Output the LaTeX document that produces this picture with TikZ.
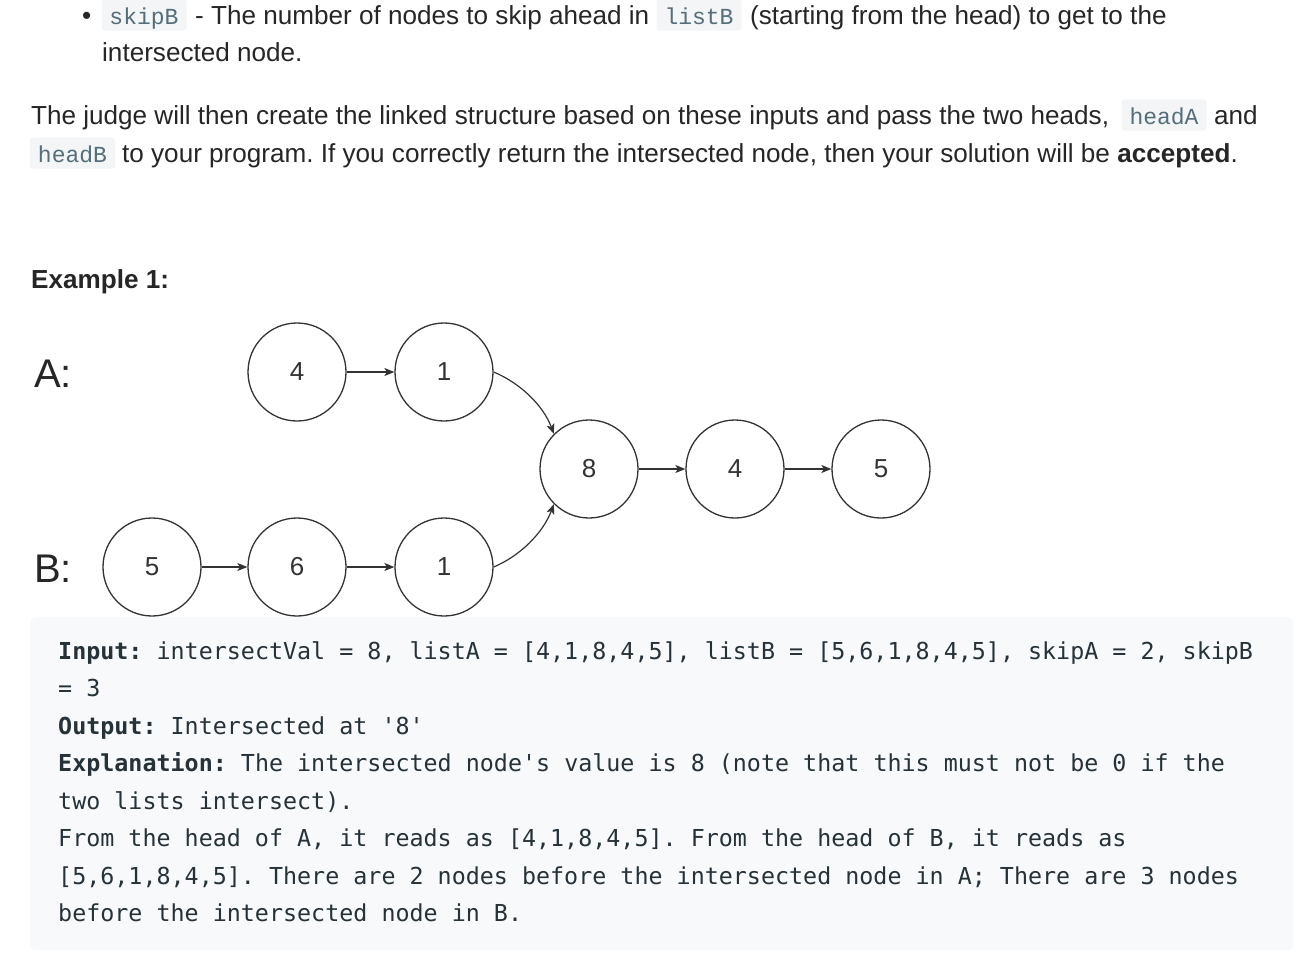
\documentclass[tikz,border=0pt]{standalone}
\usepackage{fontspec}
\setmainfont{Liberation Sans}
\newfontfamily\codefont{DejaVu Sans Mono}
\newfontfamily\icodefont{Liberation Mono}
\usetikzlibrary{arrows.meta}
\definecolor{txt}{HTML}{262626}
\definecolor{icbg}{HTML}{F3F5F7}
\definecolor{ictx}{HTML}{546E7A}
\definecolor{cbbg}{HTML}{F7F9FA}
\definecolor{cbtx}{HTML}{263238}
\definecolor{ln}{HTML}{333333}
\frenchspacing
\begin{document}
\begin{tikzpicture}[x=1pt,y=-1pt,
  body/.style={anchor=base west, inner sep=0pt, text=txt, font=\frenchspacing\fontsize{26.1}{30}\selectfont},
  icode/.style={fill=icbg, rounded corners=3pt, inner sep=0pt, minimum height=31pt, minimum width=85pt,
    text height=20pt, text depth=2pt, text=ictx, font=\icodefont\fontsize{23}{28}\selectfont},
  lbl/.style={anchor=base west, inner sep=0pt, text=black!85, font=\fontsize{40}{44}\selectfont},
  ll/.style={circle, draw=ln, line width=1.3pt, minimum size=98pt, inner sep=0pt, text=ln,
    font=\fontsize{26}{30}\selectfont},
  arr/.style={draw=ln, line width=1.2pt, -{Stealth[length=10pt, width=8pt, inset=2.5pt]}},
  cline/.style={anchor=base west, inner sep=0pt, text=cbtx, font=\frenchspacing\codefont\fontsize{23.35}{28}\selectfont},
]
\useasboundingbox (0,0) rectangle (1310,978);
\fill[white] (0,0) rectangle (1310,978);

% top bullet item
\node[body] (bul) at (82,24) {\textbullet};
\node[icode] (c1) at (144,15) {skipB};
\node[body] (t1) at (195,24) {- The number of nodes to skip ahead in};
\node[icode] (c2) at (699,15) {listB};
\node[body] (t2) at (750,24) {(starting from the head) to get to the};
\node[body] (t3) at (102,61) {intersected node.};

% paragraph
\node[body] (t4) at (31,124) {The judge will then create the linked structure based on these inputs and pass the two heads,};
\node[icode] (c3) at (1164,115) {headA};
\node[body] (t5) at (1214,124) {and};
\node[icode] (c4) at (72.5,153) {headB};
\node[body] (t6) at (122,162) {to your program. If you correctly return the intersected node, then your solution will be \textbf{accepted}.};

\node[body] (ex) at (31,288) {\textbf{Example 1:}};

% diagram
\node[lbl] (la) at (34,387) {A:};
\node[lbl] (lb) at (34,582) {B:};

\node[ll] (a4) at (297,372) {4};
\node[ll] (a1) at (444,372) {1};
\node[ll] (n8) at (589,469) {8};
\node[ll] (n4) at (735,469) {4};
\node[ll] (n5) at (881,469) {5};
\node[ll] (b5) at (152,567) {5};
\node[ll] (b6) at (297,567) {6};
\node[ll] (b1) at (444,567) {1};

\draw[arr] (a4) -- (a1);
\draw[arr] (n8) -- (n4);
\draw[arr] (n4) -- (n5);
\draw[arr] (b5) -- (b6);
\draw[arr] (b6) -- (b1);
\draw[arr] (a1.east) .. controls (520,383) and (543,405) .. (n8.north west);
\draw[arr] (b1.east) .. controls (520,556) and (543,533) .. (n8.south west);

% code block
\node[fill=cbbg, rounded corners=6pt, inner sep=0pt, minimum width=1263pt, minimum height=333pt, anchor=north west] (cb) at (30,617) {};
\node[cline] (k1) at (58,659) {\textbf{Input:} intersectVal = 8, listA = [4,1,8,4,5], listB = [5,6,1,8,4,5], skipA = 2, skipB};
\node[cline] (k2) at (58,696) {= 3};
\node[cline] (k3) at (58,734) {\textbf{Output:} Intersected at \textquotesingle8\textquotesingle};
\node[cline] (k4) at (58,771) {\textbf{Explanation:} The intersected node\textquotesingle s value is 8 (note that this must not be 0 if the};
\node[cline] (k5) at (58,809) {two lists intersect).};
\node[cline] (k6) at (58,846) {From the head of A, it reads as [4,1,8,4,5]. From the head of B, it reads as};
\node[cline] (k7) at (58,884) {[5,6,1,8,4,5]. There are 2 nodes before the intersected node in A; There are 3 nodes};
\node[cline] (k8) at (58,921) {before the intersected node in B.};
\end{tikzpicture}
\end{document}
